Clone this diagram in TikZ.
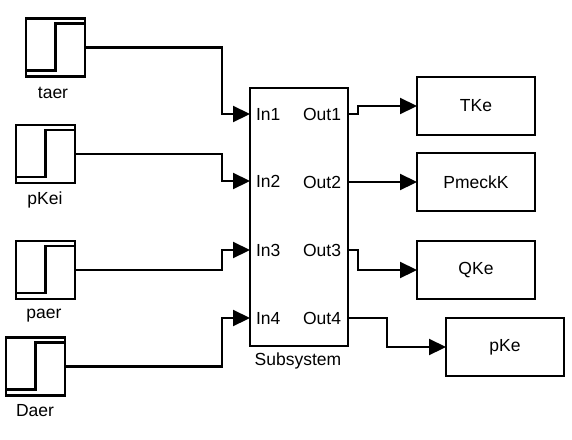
\documentclass[tikz,border=0pt]{standalone}
\usepackage{fontspec}
\setmainfont{Liberation Sans}
\usetikzlibrary{arrows.meta}
\begin{document}
\begin{tikzpicture}[x=1pt,y=-1pt,
  every node/.style={inner sep=0pt,outer sep=0pt,font=\fontsize{17.5}{20}\selectfont},
  stepblk/.style={draw,line width=2.2pt,minimum width=59pt,minimum height=58pt},
  blk/.style={draw,line width=2.2pt,minimum width=118pt,minimum height=58pt},
  sig/.style={line width=2.2pt,-{Triangle[length=17pt,width=16pt]}},
  stepline/.style={line width=2.2pt}]
\useasboundingbox (0,0) rectangle (572,439);
% step sources
\node[stepblk] (s1) at (55.5,47.5) {};
\node[stepblk] (s2) at (45.5,154) {};
\node[stepblk] (s3) at (45.5,270) {};
\node[stepblk] (s4) at (35.5,366.5) {};
\foreach \n in {s1,s2,s3,s4}
  \draw[stepline] ([yshift=6pt]\n.south west) -| ([yshift=-5pt]\n.north) -- ([yshift=-5pt]\n.north east);
\node (t1) at (53,93) {taer};
\node (t2) at (45,200) {pKei};
\node (t3) at (44,316) {paer};
\node (t4) at (35,411) {Daer};
% subsystem
\node[draw,line width=2.2pt,minimum width=98pt,minimum height=258pt] (ss) at (299,217) {};
\node (tss) at (298,361) {Subsystem};
\node[anchor=west] (lin1) at (256,114) {In1};
\node[anchor=west] (lin2) at (256,181) {In2};
\node[anchor=west] (lin3) at (256,250) {In3};
\node[anchor=west] (lin4) at (256,318) {In4};
\node[anchor=east] (lout1) at (341,114) {Out1};
\node[anchor=east] (lout2) at (341,182) {Out2};
\node[anchor=east] (lout3) at (341,250) {Out3};
\node[anchor=east] (lout4) at (341,318) {Out4};
% sinks
\node[blk] (tke) at (476,106) {TKe};
\node[blk] (pm) at (476,182) {PmeckK};
\node[blk] (qke) at (476,270) {QKe};
\node[blk] (pke) at (505,347) {pKe};
% routing coordinates
\coordinate (xin) at (222,0);
\coordinate (xo) at (358,0);
\coordinate (xo4) at (387,0);
% input connectors
\draw[sig] (s1.east) -- (s1.east -| xin) |- (ss.west |- lin1);
\draw[sig] (s2.east) -- (s2.east -| xin) |- (ss.west |- lin2);
\draw[sig] (s3.east) -- (s3.east -| xin) |- (ss.west |- lin3);
\draw[sig] (s4.east) -- (s4.east -| xin) |- (ss.west |- lin4);
% output connectors
\draw[sig] (ss.east |- lout1) -- (xo |- lout1) |- (tke.west);
\draw[sig] (ss.east |- pm.west) -- (pm.west);
\draw[sig] (ss.east |- lout3) -- (xo |- lout3) |- (qke.west);
\draw[sig] (ss.east |- lout4) -- (xo4 |- lout4) |- (pke.west);
\end{tikzpicture}
\end{document}
